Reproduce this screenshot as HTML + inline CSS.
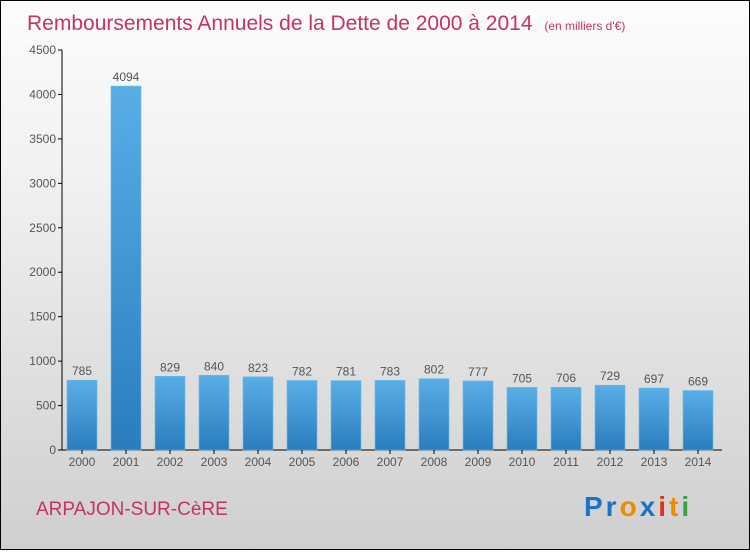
<!DOCTYPE html>
<html><head><meta charset="utf-8"><style>
body{margin:0;width:750px;height:550px;overflow:hidden}
#c{position:relative;width:748px;height:548px;border:1px solid #000;background:linear-gradient(#fcfcfc,#f2f2f2 30%,#cfcfcf);font-family:"Liberation Sans",sans-serif}
</style></head><body>
<div id="c">
<svg width="748" height="548" xmlns="http://www.w3.org/2000/svg" id="svg">
<defs><linearGradient id="bg" x1="0" y1="0" x2="0" y2="1"><stop offset="0" stop-color="#5aaee6"/><stop offset="1" stop-color="#2a7dbd"/></linearGradient></defs>
<text x="26" y="29" font-size="21" fill="#c8325e">Remboursements Annuels de la Dette de 2000 à 2014 <tspan font-size="12" dx="6">(en milliers d'€)</tspan></text>
<g id="plot"></g>
<text x="35" y="514" font-size="19" fill="#c8325e">ARPAJON-SUR-CèRE</text>
<text x="583" y="515" font-size="28" font-weight="bold" letter-spacing="3"><tspan fill="#1a73c8">Pr</tspan><tspan fill="#f08a00">o</tspan><tspan fill="#1a73c8">x</tspan><tspan fill="#e03020">i</tspan><tspan fill="#f08a00">t</tspan><tspan fill="#3aa040">i</tspan></text>
</svg></div>
<script>
const years=["2000","2001","2002","2003","2004","2005","2006","2007","2008","2009","2010","2011","2012","2013","2014"];
const values=[785,4094,829,840,823,782,781,783,802,777,705,706,729,697,669];
const yTicks=[0,500,1000,1500,2000,2500,3000,3500,4000,4500];
const NS="http://www.w3.org/2000/svg";
const g=document.getElementById('plot');
const y0=449,yMax=4500,h=400;
function y(v){return y0-v/yMax*h;}
function x(i){return 81+i*44;}
function el(t,a,txt){const e=document.createElementNS(NS,t);for(const k in a)e.setAttribute(k,a[k]);if(txt!=null)e.textContent=txt;g.appendChild(e);return e;}
let ax=el('line',{x1:61,y1:y(yMax),x2:61,y2:y0,stroke:'#000'});


let xa=el('line',{x1:61,y1:y0,x2:721,y2:y0,stroke:'#000'});


yTicks.forEach(v=>{
 el('line',{x1:57,x2:61,y1:y(v),y2:y(v),stroke:'#000'});
 const t=el('text',{x:55,y:y(v)+4,'font-size':12,fill:'#555','text-anchor':'end'},v);
 
 
});
years.forEach((yr,i)=>{
 const v=values[i];
 const r=el('rect',{x:x(i)-15,y:y(v),width:30,height:y0-y(v),fill:'url(#bg)',stroke:'#6bb8ee','stroke-width':0.6});
 
 
 const l=el('text',{x:x(i),y:y(v)-5,'font-size':12,fill:'#555','text-anchor':'middle'},v);
 
 
 el('line',{x1:x(i),x2:x(i),y1:y0,y2:y0+4,stroke:'#000'});
 const xl=el('text',{x:x(i),y:y0+16,'font-size':12,fill:'#555','text-anchor':'middle'},yr);
 
 
});
</script>
</body></html>
